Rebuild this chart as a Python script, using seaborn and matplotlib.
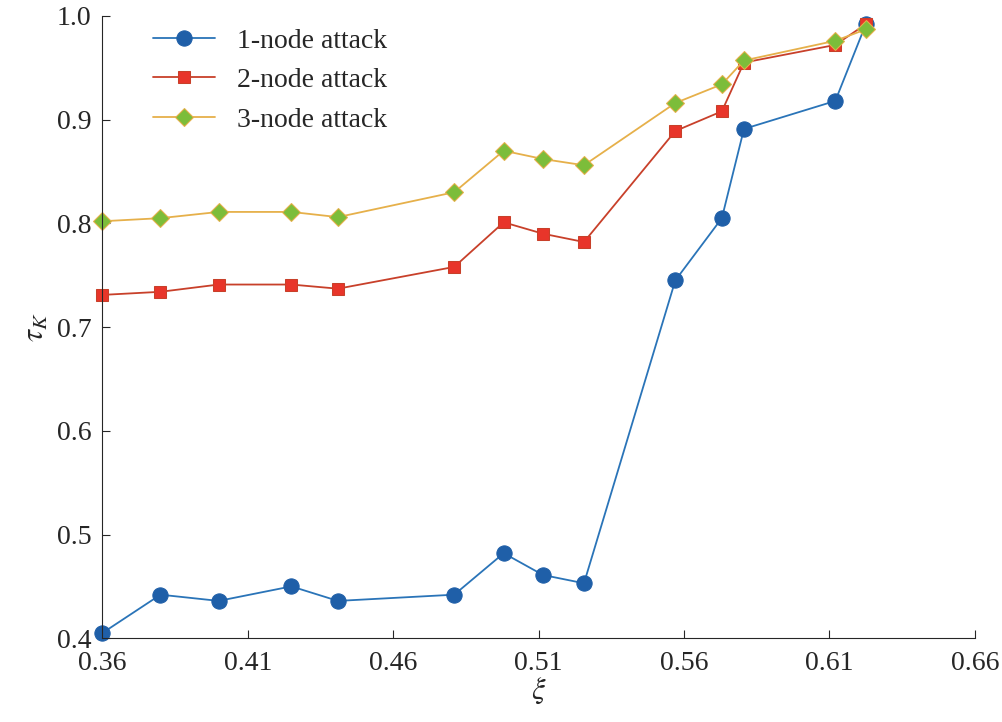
import matplotlib
matplotlib.use("Agg")
import matplotlib.pyplot as plt
import seaborn as sns
import pandas as pd

xi = [0.360, 0.380, 0.400, 0.425, 0.441, 0.481, 0.498, 0.5115, 0.5256, 0.557, 0.573, 0.5806, 0.612, 0.6225]
one = [0.405, 0.442, 0.436, 0.450, 0.436, 0.442, 0.482, 0.461, 0.453, 0.745, 0.805, 0.891, 0.918, 0.992]
two = [0.731, 0.734, 0.741, 0.741, 0.737, 0.758, 0.801, 0.790, 0.782, 0.889, 0.908, 0.955, 0.972, 0.992]
three = [0.802, 0.805, 0.811, 0.811, 0.806, 0.830, 0.870, 0.862, 0.856, 0.916, 0.934, 0.957, 0.976, 0.987]
labels = ["1-node attack", "2-node attack", "3-node attack"]

sns.set_style("ticks")
plt.rcParams['font.family'] = ['Liberation Serif', 'DejaVu Serif']
plt.rcParams['mathtext.fontset'] = 'stix'

fig, ax = plt.subplots(figsize=(10.03, 7.22), dpi=100)
styles = [
    dict(color="#2a74b8", marker="o", markersize=11, markerfacecolor="#1f5fa8", markeredgecolor="#1f5fa8"),
    dict(color="#c8402a", marker="s", markersize=9, markerfacecolor="#e8352a", markeredgecolor="#c8402a"),
    dict(color="#e6b04a", marker="D", markersize=9, markerfacecolor="#7cbd3a", markeredgecolor="#e6b04a"),
]
for ys, lab, st in zip([one, two, three], labels, styles):
    df = pd.DataFrame({"x": xi, "y": ys})
    sns.lineplot(data=df, x="x", y="y", ax=ax, label=lab, linewidth=1.3, clip_on=False, **st)

ax.set_xlim(0.36, 0.66)
ax.set_ylim(0.4, 1.0)
ax.set_xticks([0.36, 0.41, 0.46, 0.51, 0.56, 0.61, 0.66])
ax.set_xticklabels(["0.36", "0.41", "0.46", "0.51", "0.56", "0.61", "0.66"])
ax.set_yticks([0.4, 0.5, 0.6, 0.7, 0.8, 0.9, 1.0])
ax.tick_params(direction="in", labelsize=20, length=6)
ax.tick_params(axis="x", pad=9)
ax.tick_params(axis="y", pad=8)
ax.set_xlabel(r"$\xi$", fontsize=22, labelpad=0)
ax.set_ylabel(r"$\tau_K$", fontsize=22, labelpad=4)
sns.despine(ax=ax)
ax.legend(loc="upper left", bbox_to_anchor=(0.03, 1.02), frameon=False, fontsize=20, handlelength=2.2)
fig.subplots_adjust(left=0.102, right=0.972, top=0.978, bottom=0.116)
fig.savefig("out.png", dpi=100)
